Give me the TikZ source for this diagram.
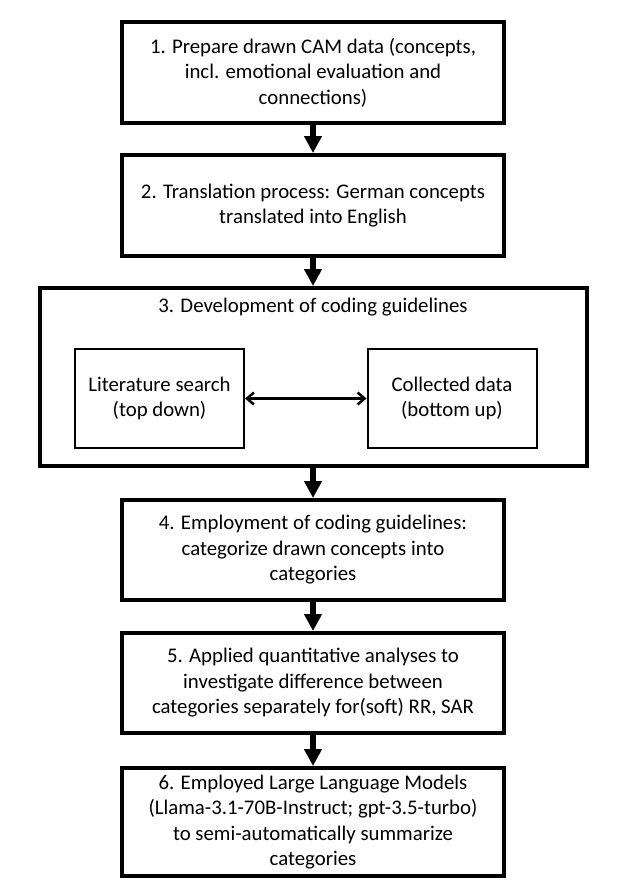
\documentclass[tikz,border=0pt]{standalone}
\usepackage{fontspec}
\setmainfont{Carlito}
\usetikzlibrary{arrows.meta}

\begin{document}
\begin{tikzpicture}[x=1pt, y=-1pt]
          \tikzstyle{stage}=[draw, line width=4pt, minimum width=382pt, minimum height=101pt, inner sep=0pt, align=center, font=\fontsize{20.8}{25.5}\selectfont]
          \tikzstyle{source}=[draw, line width=2pt, minimum width=169pt, minimum height=99pt, inner sep=0pt, align=center, font=\fontsize{20.8}{25.5}\selectfont]
          \tikzstyle{flow}=[line width=6pt, -{Triangle[length=17pt, width=17pt]}]
          \tikzstyle{link}=[line width=2.5pt, {Straight Barb[length=7pt, width=12pt]}-{Straight Barb[length=7pt, width=12pt]}]

          \useasboundingbox (0, 0) rectangle (624, 888);

          \node (prep) at (313, 72.5) [stage] {1. Prepare drawn CAM data (concepts,\\incl. emotional evaluation and\\connections)};
          \node (trans) at (313, 205.5) [stage] {2. Translation process: German concepts\\translated into English};

          \node (devbox) at (313, 377) [stage, minimum width=547pt, minimum height=178pt] {};
          \node (devlabel) at (313, 307) [font=\fontsize{20.8}{25.5}\selectfont] {3. Development of coding guidelines};
          \node (lit) at (159.5, 398.5) [source] {Literature search\\(top down)};
          \node (data) at (452, 398.5) [source] {Collected data\\(bottom up)};

          \node (employ) at (313, 550) [stage, minimum height=100pt] {4. Employment of coding guidelines:\\categorize drawn concepts into\\categories};
          \node (analyse) at (313, 683) [stage, minimum height=100pt] {5. Applied quantitative analyses to\\investigate difference between\\categories separately for(soft) RR, SAR};
          \node (llm) at (313, 822) [stage, minimum height=108pt] {6. Employed Large Language Models\\(Llama-3.1-70B-Instruct; gpt-3.5-turbo)\\to semi-automatically summarize\\categories};

          \draw (prep) -- (trans) [flow];
          \draw (trans) -- (devbox) [flow];
          \draw (lit) -- (data) [link];
          \draw (devbox) -- (employ) [flow];
          \draw (employ) -- (analyse) [flow];
          \draw (analyse) -- (llm) [flow];
        \end{tikzpicture}
\end{document}
